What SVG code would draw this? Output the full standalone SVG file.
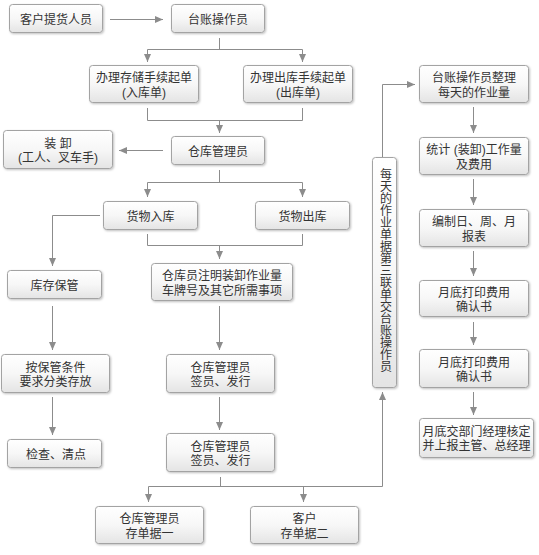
<svg xmlns="http://www.w3.org/2000/svg" width="539" height="555" viewBox="0 0 539 555">
<defs>
<linearGradient id="g" x1="0" y1="0" x2="0" y2="1">
<stop offset="0" stop-color="#ffffff"/>
<stop offset="0.5" stop-color="#f7f7f7"/>
<stop offset="1" stop-color="#e4e4e4"/>
</linearGradient>
<filter id="sh" x="-10%" y="-10%" width="120%" height="130%">
<feDropShadow dx="1" dy="1" stdDeviation="0.8" flood-color="#000" flood-opacity="0.25"/>
</filter>
<marker id="ar" markerUnits="userSpaceOnUse" markerWidth="8" markerHeight="8" refX="8" refY="4" orient="auto">
<path d="M0,0.5 L8,4 L0,7.5 z" fill="#8c8c8c"/>
</marker>
</defs>
<style>
.b rect{fill:url(#g);stroke:#a3a3a3;stroke-width:1;filter:url(#sh)}
.b text{font-family:"Liberation Sans","Noto Sans CJK SC",sans-serif;font-size:12px;fill:#333;text-anchor:middle}
.c path{fill:none;stroke:#8c8c8c;stroke-width:1}
.c path.a{marker-end:url(#ar)}
</style>
<rect width="539" height="555" fill="#fff"/>
<g class="c" id="connectors">
<path class="a" d="M110,19.5 H163"/>
<path d="M219.5,38 V49.5 M147.5,49.5 H302.5"/>
<path class="a" d="M147.5,49.5 V62"/>
<path class="a" d="M302.5,49.5 V62"/>
<path d="M147.5,108 V120.5 H302.5 V108"/>
<path class="a" d="M219.5,120.5 V133"/>
<path class="a" d="M163,150.5 H119"/>
<path d="M219.5,170 V182.5 M147.5,182.5 H302.5"/>
<path class="a" d="M147.5,182.5 V197"/>
<path class="a" d="M302.5,182.5 V197"/>
<path class="a" d="M100,215.5 H52.5 V266"/>
<path d="M147.5,234 V245.5 H302.5 V234"/>
<path class="a" d="M219.5,245.5 V259"/>
<path class="a" d="M52.5,306 V350"/>
<path class="a" d="M219.5,306 V350"/>
<path class="a" d="M52.5,397 V435"/>
<path class="a" d="M219.5,397 V430"/>
<path d="M220.5,477 V486.5 M148.5,486.5 H382.5"/>
<path class="a" d="M148.5,486.5 V502"/>
<path class="a" d="M303.5,486.5 V502"/>
<path class="a" d="M382.5,486.5 V392"/>
<path class="a" d="M382.5,157 V84.5 H415"/>
<path class="a" d="M473.5,107 V133"/>
<path class="a" d="M473.5,179 V205"/>
<path class="a" d="M473.5,251 V276"/>
<path class="a" d="M473.5,322 V345"/>
<path class="a" d="M473.5,392 V415"/>
</g>
<g class="b" id="n1"><rect x="9.5" y="4.5" width="93" height="28" rx="3"/><text x="56" y="24">客户提货人员</text></g>
<g class="b" id="n2"><rect x="171.5" y="4.5" width="93" height="28" rx="3"/><text x="218" y="24">台账操作员</text></g>
<g class="b" id="n3"><rect x="89.5" y="65.5" width="109" height="37" rx="3"/><text x="144" y="82">办理存储手续起单</text><text x="144" y="96.5">(入库单)</text></g>
<g class="b" id="n4"><rect x="243.5" y="65.5" width="109" height="37" rx="3"/><text x="298" y="82">办理出库手续起单</text><text x="298" y="96.5">(出库单)</text></g>
<g class="b" id="n5"><rect x="171.5" y="136.5" width="93" height="28" rx="3"/><text x="218" y="156">仓库管理员</text></g>
<g class="b" id="n6"><rect x="3.5" y="130.5" width="109" height="38" rx="3"/><text x="58" y="147.5">装 卸</text><text x="58" y="162">(工人、叉车手)</text></g>
<g class="b" id="n7"><rect x="103.5" y="201.5" width="94" height="28" rx="3"/><text x="150.5" y="221">货物入库</text></g>
<g class="b" id="n8"><rect x="255.5" y="201.5" width="94" height="28" rx="3"/><text x="302.5" y="221">货物出库</text></g>
<g class="b" id="n9"><rect x="7.5" y="270.5" width="94" height="28" rx="3"/><text x="54.5" y="290">库存保管</text></g>
<g class="b" id="n10"><rect x="151.5" y="263.5" width="141" height="37" rx="3"/><text x="222" y="280">仓库员注明装卸作业量</text><text x="222" y="294.5">车牌号及其它所需事项</text></g>
<g class="b" id="n11"><rect x="1.5" y="354.5" width="108" height="38" rx="3"/><text x="55.5" y="371.5">按保管条件</text><text x="55.5" y="386">要求分类存放</text></g>
<g class="b" id="n12"><rect x="166.5" y="354.5" width="108" height="38" rx="3"/><text x="220.5" y="371.5">仓库管理员</text><text x="220.5" y="386">签员、发行</text></g>
<g class="b" id="n13"><rect x="7.5" y="439.5" width="94" height="28" rx="3"/><text x="56" y="459">检查、清点</text></g>
<g class="b" id="n14"><rect x="166.5" y="433.5" width="108" height="38" rx="3"/><text x="220.5" y="450.5">仓库管理员</text><text x="220.5" y="465">签员、发行</text></g>
<g class="b" id="n15"><rect x="95.5" y="506.5" width="108" height="37" rx="3"/><text x="149.5" y="523">仓库管理员</text><text x="149.5" y="537.5">存单据一</text></g>
<g class="b" id="n16"><rect x="250.5" y="506.5" width="108" height="37" rx="3"/><text x="304.5" y="523">客户</text><text x="304.5" y="537.5">存单据二</text></g>
<g class="b" id="n17"><rect x="372.5" y="157.5" width="24" height="230" rx="3"/><text x="384.5" y="168" style="writing-mode:vertical-rl;text-anchor:start">每天的作业单据第三联单交台账操作员</text></g>
<g class="b" id="n18"><rect x="419.5" y="65.5" width="109" height="37" rx="3"/><text x="474" y="82">台账操作员整理</text><text x="474" y="96.5">每天的作业量</text></g>
<g class="b" id="n19"><rect x="419.5" y="137.5" width="109" height="37" rx="3"/><text x="474" y="154">统计 (装卸)工作量</text><text x="474" y="168.5">及费用</text></g>
<g class="b" id="n20"><rect x="419.5" y="209.5" width="109" height="37" rx="3"/><text x="474" y="226">编制日、周、月</text><text x="474" y="240.5">报表</text></g>
<g class="b" id="n21"><rect x="419.5" y="280.5" width="109" height="36" rx="3"/><text x="474" y="296.5">月底打印费用</text><text x="474" y="311">确认书</text></g>
<g class="b" id="n22"><rect x="419.5" y="349.5" width="109" height="38" rx="3"/><text x="474" y="366.5">月底打印费用</text><text x="474" y="381">确认书</text></g>
<g class="b" id="n23"><rect x="419.5" y="418.5" width="114" height="39" rx="3"/><text x="476.5" y="435.5">月底交部门经理核定</text><text x="476.5" y="450">并上报主管、总经理</text></g>
</svg>
